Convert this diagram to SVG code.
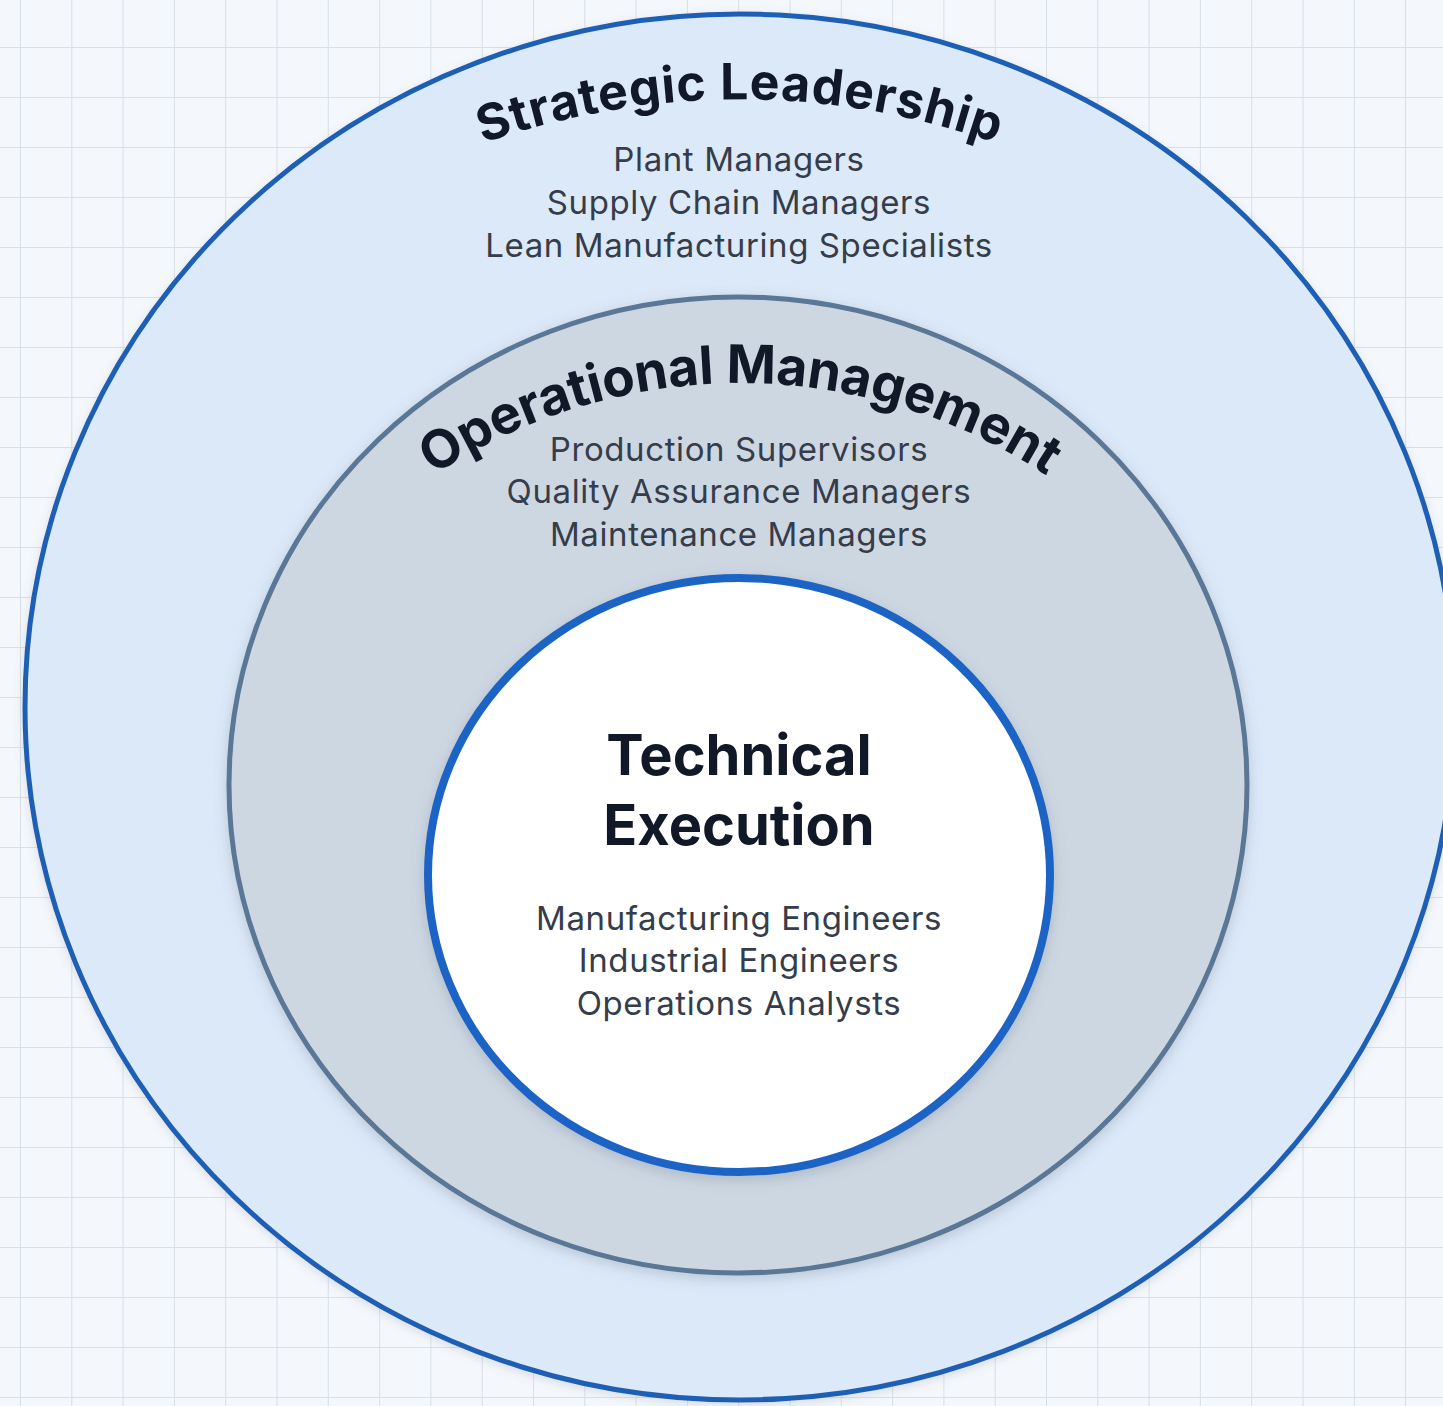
<svg xmlns="http://www.w3.org/2000/svg" width="1443" height="1406" viewBox="0 0 1443 1406">
  <style>
    .title { font-family: Inter, "Liberation Sans", sans-serif; font-weight: 700; fill: #111827; }
    .item { font-family: Inter, "Liberation Sans", sans-serif; font-weight: 400; font-size: 33px; letter-spacing: 0.6px; fill: #353c4a; text-anchor: middle; }
    .core { font-family: Inter, "Liberation Sans", sans-serif; font-weight: 700; font-size: 56px; fill: #111827; text-anchor: middle; }
  </style>
  <defs>
    <pattern id="grid" x="20" y="-3" width="51.3" height="50" patternUnits="userSpaceOnUse">
      <path d="M 0 0 L 0 50 M 0 0 L 51.3 0" fill="none" stroke="#d8dfe8" stroke-width="2"/>
    </pattern>
    <filter id="shadowSoft" x="-10%" y="-10%" width="120%" height="120%">
      <feDropShadow dx="0" dy="4" stdDeviation="7" flood-color="#5a6b80" flood-opacity="0.28"/>
    </filter>
    <filter id="shadowOuter" x="-10%" y="-10%" width="120%" height="120%">
      <feDropShadow dx="0" dy="3" stdDeviation="5" flood-color="#6b7c90" flood-opacity="0.2"/>
    </filter>
    <path id="arcStrategic" d="M 340 211 A 773 773 0 0 1 1140 211" fill="none"/>
    <path id="arcOperational" d="M 290 614 A 554 554 0 0 1 1190 614" fill="none"/>
  </defs>

  <rect x="0" y="0" width="1443" height="1406" fill="#f4f7fb"/>
  <rect x="0" y="0" width="1443" height="1406" fill="url(#grid)"/>

  <g id="node-strategic">
    <ellipse cx="740" cy="707" rx="715" ry="693" fill="#dce9f8" stroke="#1f5fb5" stroke-width="5" filter="url(#shadowOuter)"/>
    <text class="title" font-size="50" letter-spacing="0.8"><textPath href="#arcStrategic" startOffset="50%" text-anchor="middle">Strategic Leadership</textPath></text>
    <text class="item" x="739" y="171">Plant Managers</text>
    <text class="item" x="739" y="214">Supply Chain Managers</text>
    <text class="item" x="739" y="257">Lean Manufacturing Specialists</text>
  </g>

  <g id="node-operational">
    <ellipse cx="738" cy="785" rx="509" ry="488" fill="#cdd7e2" stroke="#5a7796" stroke-width="5" filter="url(#shadowSoft)"/>
    <text class="title" font-size="53" letter-spacing="-0.3"><textPath href="#arcOperational" startOffset="50%" text-anchor="middle">Operational Management</textPath></text>
    <text class="item" x="739" y="461">Production Supervisors</text>
    <text class="item" x="739" y="503">Quality Assurance Managers</text>
    <text class="item" x="739" y="546">Maintenance Managers</text>
  </g>

  <g id="node-technical">
    <ellipse cx="739" cy="875" rx="311" ry="297" fill="#ffffff" stroke="#1f63c6" stroke-width="8" filter="url(#shadowSoft)"/>
    <text class="core" x="739" y="775">Technical</text>
    <text class="core" x="739" y="845">Execution</text>
    <text class="item" x="739" y="930">Manufacturing Engineers</text>
    <text class="item" x="739" y="972">Industrial Engineers</text>
    <text class="item" x="739" y="1015">Operations Analysts</text>
  </g>

  <g id="connectors"/>
</svg>
